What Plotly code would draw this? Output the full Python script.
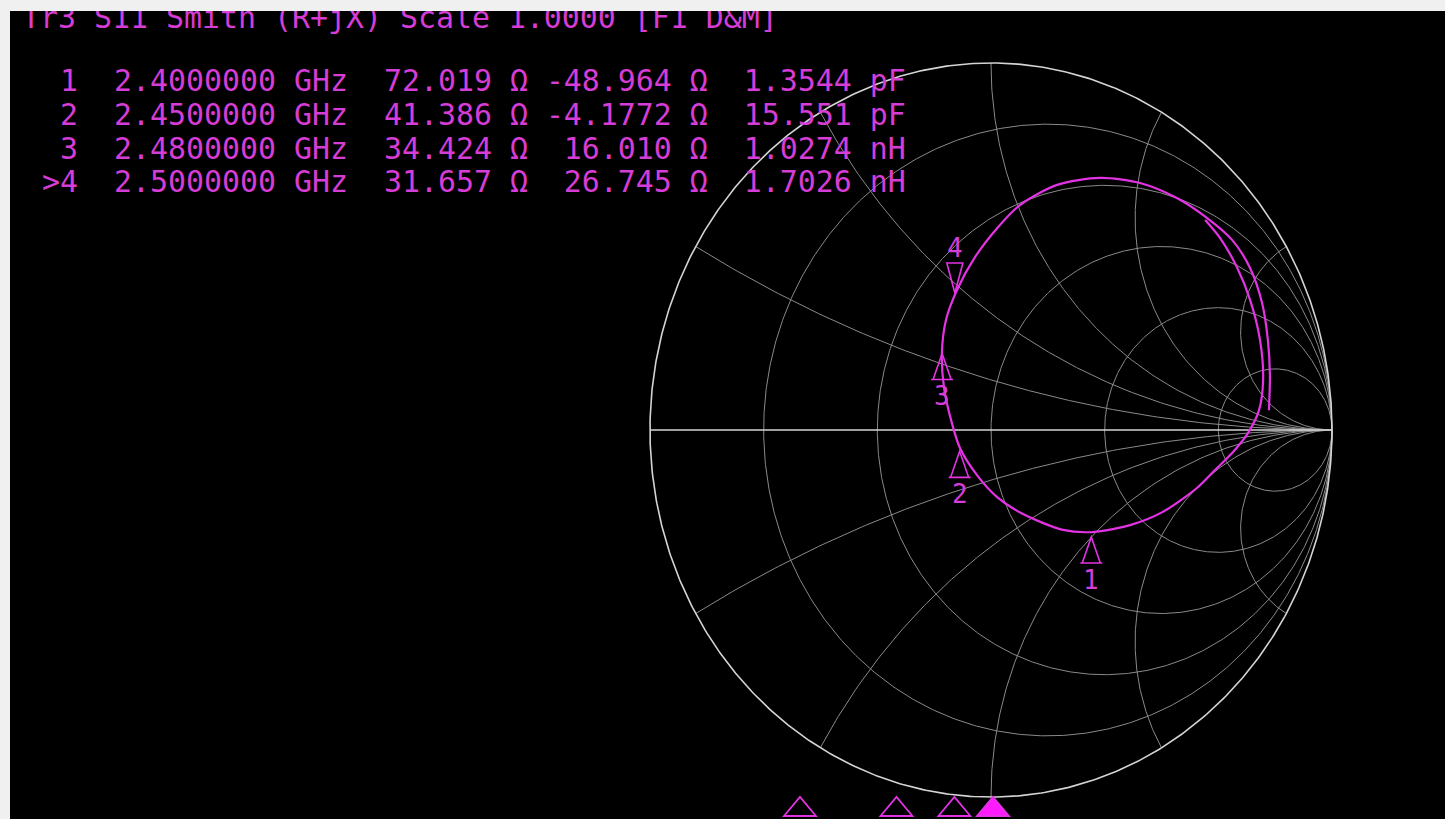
import numpy as np
import plotly.graph_objects as go

# ---------------- data ----------------
title_text = "Tr3 S11 Smith (R+jX) Scale 1.0000 [F1 D&M]"
Z0 = 50.0

marker_ids = ["1", "2", "3", ">4"]
marker_freq_ghz = [2.40, 2.45, 2.48, 2.50]
marker_r_ohm = [72.019, 41.386, 34.424, 31.657]
marker_x_ohm = [-48.964, -4.1772, 16.010, 26.745]
marker_eq_val = [1.3544, 15.551, 1.0274, 1.7026]
marker_eq_unit = ["pF", "pF", "nH", "nH"]
active_marker = 3

# S11 trace, reflection coefficient (real / imaginary), in sweep order
trace_gamma_re = [0.628, 0.672, 0.721, 0.760, 0.789, 0.798, 0.786, 0.754, 0.710, 0.657,
                  0.604, 0.504, 0.408, 0.299, 0.211, 0.094, 0.018, -0.041, -0.091, -0.117,
                  -0.138, -0.144, -0.132, -0.100, -0.047, 0.018, 0.085, 0.194, 0.320, 0.437,
                  0.545, 0.633, 0.707, 0.760, 0.795, 0.812, 0.818, 0.815]
trace_gamma_im = [0.572, 0.523, 0.444, 0.354, 0.245, 0.136, 0.054, -0.008, -0.060, -0.109,
                  -0.158, -0.223, -0.259, -0.278, -0.272, -0.229, -0.183, -0.123, -0.049, 0.027,
                  0.117, 0.210, 0.300, 0.381, 0.471, 0.550, 0.613, 0.668, 0.687, 0.673,
                  0.632, 0.578, 0.518, 0.441, 0.346, 0.245, 0.150, 0.054]

resistance_grid = [0.2, 0.5, 1.0, 2.0, 5.0]
reactance_grid = [0.268, 0.577, 1.0, 1.732, 3.732]

# ---------------- styling ----------------
BG = "#000000"
PAPER = "#f0f0f0"
GRID = "#8a8a8a"
FRAME = "#d4d4d4"
TRACE = "#e433e4"
TEXT = "#d63cd6"
FONT = "DejaVu Sans Mono"
FSIZE = 29.9

fig = go.Figure()

# grid: constant resistance circles
t = np.linspace(0, 2 * np.pi, 721)
gx, gy = [], []
for r in resistance_grid:
    c, rad = r / (1 + r), 1 / (1 + r)
    gx += list(c + rad * np.cos(t)) + [None]
    gy += list(rad * np.sin(t)) + [None]
# grid: constant reactance arcs
rr = np.concatenate([np.linspace(0, 2, 200), np.logspace(np.log10(2.01), 5, 300)])
for x in reactance_grid:
    for s in (1, -1):
        z = rr + 1j * s * x
        g = (z - 1) / (z + 1)
        gx += list(g.real) + [1.0, None]
        gy += list(g.imag) + [0.0, None]
fig.add_trace(go.Scatter(x=gx, y=gy, mode="lines", line=dict(color=GRID, width=1),
                         hoverinfo="skip", showlegend=False))

# frame: outer circle + real axis
fig.add_trace(go.Scatter(x=list(np.cos(t)) + [None, -1, 1], y=list(np.sin(t)) + [None, 0, 0],
                         mode="lines", line=dict(color=FRAME, width=1.6),
                         hoverinfo="skip", showlegend=False))

# S11 trace
fig.add_trace(go.Scatter(x=trace_gamma_re, y=trace_gamma_im, mode="lines",
                         line=dict(color=TRACE, width=2.2, shape="spline", smoothing=0.8),
                         showlegend=False))

# markers on the trace
zm = (np.array(marker_r_ohm) + 1j * np.array(marker_x_ohm)) / Z0
gm = (zm - 1) / (zm + 1)
shapes = []
annotations = []
for i, g in enumerate(gm):
    active = i == active_marker
    path = "M 0,4 L -8,34 L 8,34 Z" if active else "M 0,-3 L -9,-29 L 9,-29 Z M -11,-29 L 11,-29"
    shapes.append(dict(type="path", xref="x", yref="y", xsizemode="pixel", ysizemode="pixel",
                       xanchor=float(g.real), yanchor=float(g.imag), path=path,
                       line=dict(color=TRACE, width=1.6)))
    annotations.append(dict(x=float(g.real), y=float(g.imag), xref="x", yref="y",
                            text=marker_ids[i].lstrip(">"), showarrow=False,
                            yshift=49 if active else -46,
                            font=dict(family=FONT, size=26, color=TEXT)))

# stimulus markers along the bottom
for i, f in enumerate(marker_freq_ghz):
    active = i == active_marker
    shapes.append(dict(type="path", xref="x2", yref="paper", xsizemode="pixel", ysizemode="pixel",
                       xanchor=f, yanchor=0, path="M -16,3 L 16,3 L 0,22 Z",
                       fillcolor="#ff1aff" if active else "rgba(0,0,0,0)",
                       line=dict(color=TRACE, width=1.8)))

# readout text (clipped to the plot area like the instrument screen)
nb = "\u00a0"
lines = []
for i in range(len(marker_ids)):
    s = (f"{marker_ids[i]:>2}  {marker_freq_ghz[i]:.7f} GHz  {marker_r_ohm[i]:#.5g} \u03a9 "
         f"{format(marker_x_ohm[i], '#.5g'):>7} \u03a9 {format(marker_eq_val[i], '#.5g'):>7} {marker_eq_unit[i]}")
    lines.append(s.replace(" ", nb))
text_x = [22] + [42] * len(lines)
text_y = [21, 84, 118, 152, 185]
fig.add_trace(go.Scatter(x=text_x, y=text_y, xaxis="x3", yaxis="y3", mode="text",
                         text=[title_text.replace(" ", nb)] + lines,
                         textposition="middle right", cliponaxis=True,
                         textfont=dict(family=FONT, size=FSIZE, color=TEXT),
                         hoverinfo="skip", showlegend=False))

hidden = dict(visible=False, showgrid=False, zeroline=False, fixedrange=True)
fig.update_layout(
    width=1445, height=819,
    margin=dict(l=10, r=0, t=11, b=0),
    paper_bgcolor=PAPER, plot_bgcolor=BG,
    xaxis=dict(range=[-2.8768, 1.3314], **hidden),
    yaxis=dict(range=[-1.0599, 1.1417], **hidden),
    xaxis2=dict(range=[1.9907, 2.7342], overlaying="x", anchor="y", **hidden),
    xaxis3=dict(range=[10, 1445], overlaying="x", anchor="y3", **hidden),
    yaxis3=dict(range=[819, 11], overlaying="y", anchor="x3", **hidden),
    shapes=shapes, annotations=annotations, showlegend=False,
)

fig.write_html("out.html", config={"displayModeBar": False},
               post_script="document.body.style.margin='0';document.body.style.overflow='hidden';")
